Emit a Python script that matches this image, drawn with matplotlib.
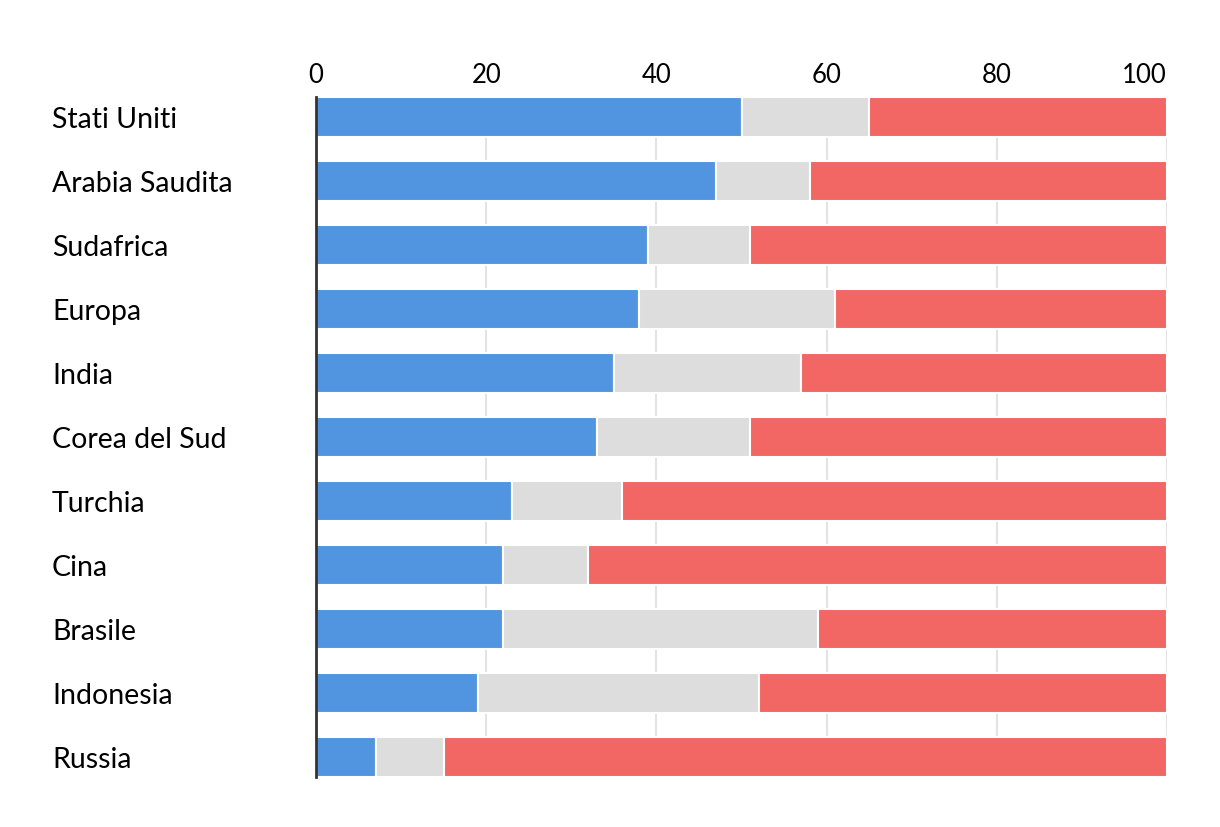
import numpy as np
import matplotlib
matplotlib.use("Agg")
import matplotlib.pyplot as plt

paesi = ["Stati Uniti", "Arabia Saudita", "Sudafrica", "Europa", "India",
         "Corea del Sud", "Turchia", "Cina", "Brasile", "Indonesia", "Russia"]
blu = [50, 47, 39, 38, 35, 33, 23, 22, 22, 19, 7]
grigio = [15, 11, 12, 23, 22, 18, 13, 10, 37, 33, 8]
rosso = [35, 42, 49, 39, 43, 49, 64, 68, 41, 48, 85]

plt.rcParams['font.family'] = ['Lato', 'DejaVu Sans']

fig = plt.figure(figsize=(12.2, 8.28), dpi=100)
ax = fig.add_axes([316/1220, 1 - 778/828, 851/1220, 680/828])

y = np.arange(len(paesi))
h = 0.625
blu = np.array(blu)
grigio = np.array(grigio)
rosso = np.array(rosso)
ax.barh(y, blu, height=h, color="#5195E1", edgecolor="white", linewidth=1.5, zorder=3)
ax.barh(y, grigio, left=blu, height=h, color="#DDDDDD", edgecolor="white", linewidth=1.5, zorder=3)
ax.barh(y, rosso, left=blu + grigio, height=h, color="#F26764", edgecolor="white", linewidth=1.5, zorder=3)

ax.set_xlim(0, 100)
ax.set_ylim(len(paesi) - 1 + h/2, -h/2)
ax.set_xticks([0, 20, 40, 60, 80, 100])
ax.xaxis.tick_top()
ax.tick_params(axis="x", length=0, pad=7, labelsize=18.5, colors="black")
ax.get_xticklabels()[-1].set_ha("right")
ax.set_yticks(y)
ax.set_yticklabels(paesi, fontsize=20.5, ha="left")
ax.tick_params(axis="y", length=0, pad=264 * 0.72)
ax.grid(axis="x", color="#E3E3E3", linewidth=1.5, zorder=0)
for s in ["top", "right", "bottom"]:
    ax.spines[s].set_visible(False)
ax.spines["left"].set_color("#333333")
ax.spines["left"].set_linewidth(2)
ax.spines["left"].set_zorder(5)

fig.savefig("out.png", dpi=100, facecolor="white")
